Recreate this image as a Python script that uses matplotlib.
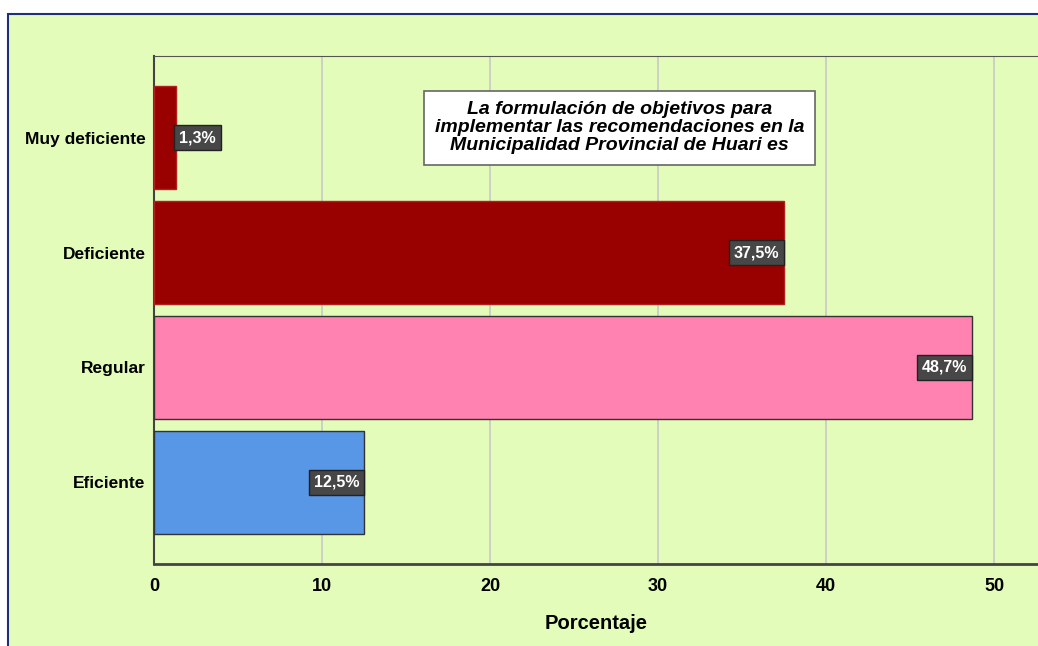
import matplotlib.pyplot as plt
from matplotlib.patches import Rectangle

categorias = ['Muy deficiente', 'Deficiente', 'Regular', 'Eficiente']
porcentajes = [1.3, 37.5, 48.7, 12.5]
etiquetas = ['1,3%', '37,5%', '48,7%', '12,5%']
colores = ['#990000', '#990000', '#FF82B0', '#5896E6']
bordes = ['#B02020', '#B02020', '#333333', '#333333']
xticks = [0, 10, 20, 30, 40, 50]
titulo = 'La formulación de objetivos para\nimplementar las recomendaciones en la\nMunicipalidad Provincial de Huari es'

plt.rcParams['font.family'] = ['Liberation Sans', 'DejaVu Sans']

fig = plt.figure(figsize=(10.38, 6.46), dpi=100)
fig.patch.set_facecolor('white')
bg = '#E3FCB9'
fig.patches.append(Rectangle((8 / 1038, -0.1), 1.2, 1 - 14 / 646 + 0.1,
                             transform=fig.transFigure, facecolor=bg,
                             edgecolor='#1F2F7A', linewidth=1.5, zorder=-1))

ax = fig.add_axes([154 / 1038, 1 - 564 / 646, 1 - 154 / 1038, (564 - 56) / 646])
ax.set_zorder(1)
ax.set_facecolor(bg)

y = list(range(len(categorias)))
ax.barh(y, porcentajes, height=0.9, color=colores, edgecolor=bordes, linewidth=1, zorder=3)

for i, (v, t) in enumerate(zip(porcentajes, etiquetas)):
    caja = dict(boxstyle='square,pad=0.3', facecolor='#474747', edgecolor='#222222', linewidth=1)
    if v < 5:
        ax.text(v + 0.2, i, t, ha='left', va='center', color='white', fontsize=11.5,
                fontweight='bold', zorder=5, bbox=caja)
    else:
        ax.text(v - 0.3, i, t, ha='right', va='center', color='white', fontsize=11.5,
                fontweight='bold', zorder=5, bbox=caja)

ax.set_ylim(3.71, -0.71)
ax.set_xlim(0, 52.6)
ax.set_yticks(y)
ax.set_yticklabels(categorias, fontsize=12.5, fontweight='bold')
ax.set_xticks(xticks)
ax.set_xticklabels([str(x) for x in xticks], fontsize=13, fontweight='bold')
ax.tick_params(axis='y', length=0, pad=6)
ax.tick_params(axis='x', length=0, pad=10)

for x in xticks[1:]:
    ax.axvline(x, color='#C8C8C8', linewidth=1.2, zorder=1)

ax.spines['right'].set_visible(False)
ax.spines['top'].set_color('#555555')
ax.spines['left'].set_color('#444444')
ax.spines['bottom'].set_color('#444444')
ax.spines['left'].set_linewidth(1.5)
ax.spines['bottom'].set_linewidth(2)

ax.set_xlabel('Porcentaje', fontsize=14.5, fontweight='bold', labelpad=14)

ax.text(27.7, -0.084, titulo, ha='center', va='center', fontsize=14, fontweight='bold',
        fontstyle='italic', linespacing=1.08, zorder=6,
        bbox=dict(boxstyle='square,pad=0.55', facecolor='white', edgecolor='#666666', linewidth=1.2))

fig.savefig('out.png', dpi=100, facecolor=fig.get_facecolor())
